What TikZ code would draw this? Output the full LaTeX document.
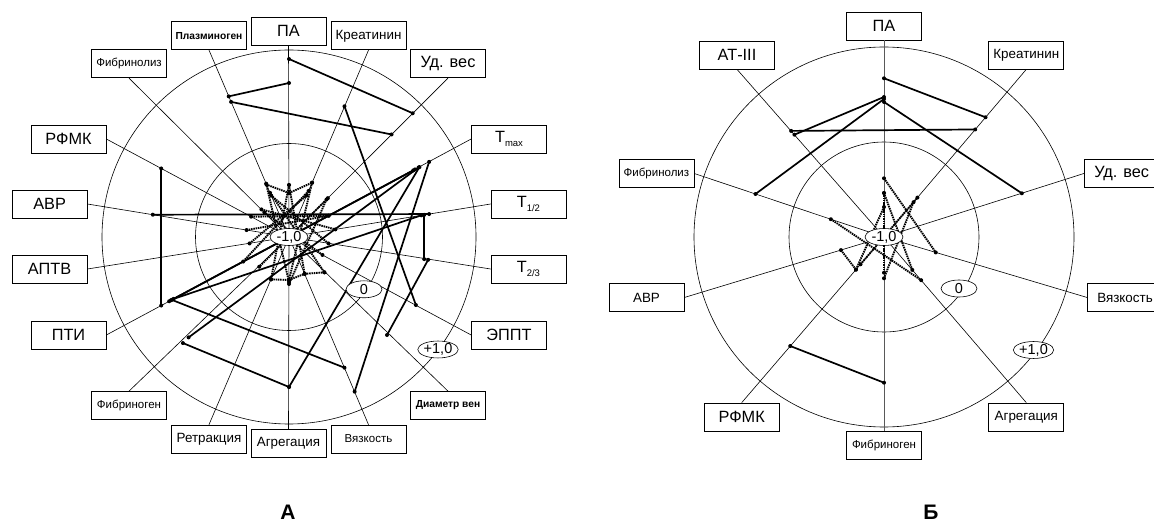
\documentclass[tikz,border=0pt]{standalone}
\usepackage{fontspec}
\setmainfont{Liberation Sans}
\usetikzlibrary{calc,shapes.geometric}
\newcommand\fsz[1]{\fontsize{#1bp}{#1bp}\selectfont}
\newcommand\subtx[1]{\raisebox{-0.5ex}{\fontsize{9.5bp}{9.5bp}\selectfont #1}}
\newcommand\seg[7]{%
  \coordinate (#1a) at ($(#3)+(#4:#5bp)$);
  \coordinate (#1b) at ($(#3)+(#6:#7bp)$);
  \draw[#2] (#1a) -- (#1b);
  \fill (#1a) circle (2bp) (#1b) circle (2bp);
}
\tikzset{
 box/.style={draw, line width=0.7bp, fill=white, minimum width=75bp, minimum height=28bp, inner sep=0pt},
 big/.style={font=\fsz{16.3}},
 mid/.style={font=\fsz{13.4}},
 sml/.style={font=\fsz{11.5}},
 smb/.style={font=\fsz{10.2}\bfseries},
 spoke/.style={line width=0.6bp},
 ring/.style={line width=0.6bp},
 sol/.style={line width=1.7bp},
 dotl/.style={line width=1.9bp, dash pattern=on 1.5bp off 0.8bp},
 oval/.style={ellipse, draw, line width=0.6bp, fill=white, inner sep=0pt, minimum width=38bp, minimum height=17bp, font=\fsz{14.5}},
 title/.style={font=\fsz{21}\bfseries, anchor=base},
}
\begin{document}
\begin{tikzpicture}[x=1bp,y=-1bp]
\useasboundingbox (0,0) rectangle (1154,522);
% ================= A =================
\coordinate (cA) at (289,237);
\draw[ring] (cA) circle (187bp);
\draw[ring] (cA) circle (93.5bp);
% labels A
\node[box,big] (aPA)   at (288.5,31)  {ПА};
\node[box,smb] (aPlaz) at (209,35.8)  {Плазминоген};
\node[box,mid] (aKre)  at (368.5,35.8){Креатинин};
\node[box,sml] (aFbl)  at (129,63.8)  {Фибринолиз};
\node[box,big] (aUd)   at (448,63.8)  {Уд. вес};
\node[box,big] (aRF)   at (68.5,139)  {РФМК};
\node[box,big] (aTmx)  at (509,139)   {T\subtx{max}};
\node[box,big] (aAVR)  at (49.6,204)  {АВР};
\node[box,big] (aT12)  at (528.4,204) {T\subtx{1/2}};
\node[box,big] (aAPT)  at (49.6,269)  {АПТВ};
\node[box,big] (aT23)  at (528.4,269) {T\subtx{2/3}};
\node[box,big] (aPTI)  at (68.5,335)  {ПТИ};
\node[box,big] (aEP)   at (509,335)   {ЭППТ};
\node[box,sml] (aFbg)  at (129,405.5) {Фибриноген};
\node[box,smb] (aDia)  at (448,405.5) {Диаметр вен};
\node[box,mid] (aRet)  at (209,439)   {Ретракция};
\node[box,mid] (aAgr)  at (288.5,443.3){Агрегация};
\node[box,sml] (aVya)  at (368.5,439) {Вязкость};
% spokes A
\draw[spoke] (cA) -- (aPA.south);
\draw[spoke] (cA) -- (aPlaz.south);
\draw[spoke] (cA) -- (aKre.south);
\draw[spoke] (cA) -- (aFbl.south);
\draw[spoke] (cA) -- (aUd.south);
\draw[spoke] (cA) -- (aRF.east);
\draw[spoke] (cA) -- (aTmx.west);
\draw[spoke] (cA) -- (aAVR.east);
\draw[spoke] (cA) -- (aT12.west);
\draw[spoke] (cA) -- (aAPT.east);
\draw[spoke] (cA) -- (aT23.west);
\draw[spoke] (cA) -- (aPTI.east);
\draw[spoke] (cA) -- (aEP.west);
\draw[spoke] (cA) -- (aFbg.north);
\draw[spoke] (cA) -- (aDia.north);
\draw[spoke] (cA) -- (aRet.north);
\draw[spoke] (cA) -- (aAgr.north);
\draw[spoke] (cA) -- (aVya.north);
% solid A
\seg{s1}{sol}{cA}{90}{178}{45}{175}
\seg{s2}{sol}{cA}{90}{154}{113.2}{153}
\seg{s3}{sol}{cA}{113.2}{147}{45}{145}
\seg{s4}{sol}{cA}{67}{142}{-28.2}{144}
\seg{s5}{sol}{cA}{28.2}{159}{-67}{168}
\seg{s6}{sol}{cA}{-9.3}{141}{-45}{138.6}
\seg{s7}{sol}{cA}{9.3}{137}{-9.3}{137}
\seg{s8}{sol}{cA}{170.7}{138}{9.3}{142}
\seg{s9}{sol}{cA}{151.8}{145}{-151.8}{145}
\seg{s10}{sol}{cA}{-151.8}{134}{28.2}{143}
\seg{s11}{sol}{cA}{-151.8}{131}{9.3}{134}
\seg{s12}{sol}{cA}{-135}{142}{28.2}{147}
\seg{s13}{sol}{cA}{-90}{150}{28.2}{148}
\seg{s14}{sol}{cA}{-135}{150}{-90}{150}
\seg{s15}{sol}{cA}{-151.8}{133}{-67}{142}
\seg{s16}{sol}{cA}{-151.8}{136}{28.2}{141}
% dotted A
\seg{d1}{dotl}{cA}{113.2}{58}{-90}{45}
\seg{d2}{dotl}{cA}{90}{52}{-113}{46}
\seg{d3}{dotl}{cA}{90}{52}{-67}{40}
\seg{d4}{dotl}{cA}{67}{59}{-90}{43}
\seg{d5}{dotl}{cA}{67}{50}{-151.8}{52}
\seg{d6}{dotl}{cA}{45}{55}{-135}{42}
\seg{d7}{dotl}{cA}{113.2}{48}{-45}{50}
\seg{d8}{dotl}{cA}{135}{39}{9.3}{47}
\seg{d9}{dotl}{cA}{151.8}{43}{28.2}{45}
\seg{d10}{dotl}{cA}{170.7}{43}{28.2}{45}
\seg{d11}{dotl}{cA}{-113}{46}{-90}{43}
\seg{d12}{dotl}{cA}{-90}{43}{-67}{40}
\seg{d13}{dotl}{cA}{-67}{40}{-45}{50}
\seg{d14}{dotl}{cA}{90}{44}{113.2}{57}
\seg{d15}{dotl}{cA}{90}{44}{67}{59}
\seg{d16}{dotl}{cA}{45}{53}{-90}{47}
\seg{d17}{dotl}{cA}{-170.7}{40}{67}{45}
\seg{d18}{dotl}{cA}{-9.3}{40}{113.2}{45}
\seg{d19}{dotl}{cA}{-28.2}{38}{135}{35}
% value ovals A
\node[oval] (aM1) at (cA) {-1,0};
\node[oval,minimum width=36bp] (aZ) at (364,289.3) {0};
\node[oval,minimum height=16bp] (aP1) at (438,349.5) {+1,0};
\node[title] (tA) at (288,519) {А};
% ================= Б =================
\coordinate (cB) at (884,237);
\draw[ring] (cB) circle (190bp);
\draw[ring] (cB) circle (95bp);
\node[box,big] (bPA)  at (884,26)      {ПА};
\node[box,big] (bAT)  at (737,55)      {АТ-III};
\node[box,mid] (bKre) at (1026.3,55)   {Креатинин};
\node[box,sml] (bFbl) at (656.4,173.5) {Фибринолиз};
\node[box,big] (bUd)  at (1121.7,173.5){Уд. вес};
\node[box,mid] (bAVR) at (646.5,297.5) {АВР};
\node[box,mid] (bVya) at (1125,297.5)  {Вязкость};
\node[box,big] (bRF)  at (741.7,417)   {РФМК};
\node[box,mid] (bAgr) at (1026.3,417)  {Агрегация};
\node[box,sml] (bFbg) at (884,445)     {Фибриноген};
\draw[line width=1bp, black!65] (bPA.south) -- (bFbg.north);
\draw[spoke] (cB) -- (bAT.south);
\draw[spoke] (cB) -- (bKre.south);
\draw[spoke] (cB) -- (bFbl.east);
\draw[spoke] (cB) -- (bUd.west);
\draw[spoke] (cB) -- (bAVR.east);
\draw[spoke] (cB) -- (bVya.west);
\draw[spoke] (cB) -- (bRF.north);
\draw[spoke] (cB) -- (bAgr.north);
% solid B
\seg{t1}{sol}{cB}{90}{158.7}{49.7}{157}
\seg{t2}{sol}{cB}{90}{140}{131.2}{136}
\seg{t3}{sol}{cB}{90}{138}{161.5}{135.5}
\seg{t4}{sol}{cB}{90}{135}{17.6}{144.6}
\seg{t5}{sol}{cB}{131.2}{141}{49.7}{141}
\seg{t6}{sol}{cB}{-130.7}{143.8}{-90}{145.7}
% dotted B
\seg{e1}{dotl}{cB}{90}{58.7}{-16.6}{54}
\seg{e2}{dotl}{cB}{161.5}{56}{-49.3}{57}
\seg{e3}{dotl}{cB}{-163.1}{45}{-130.7}{43}
\seg{e4}{dotl}{cB}{-130.7}{36}{49.7}{51.7}
\seg{e5}{dotl}{cB}{90}{44}{-49.3}{43.4}
\seg{e6}{dotl}{cB}{49.7}{45.6}{-90}{41.3}
\seg{e7}{dotl}{cB}{90}{30}{-130.7}{43}
\seg{e8}{dotl}{cB}{90}{44}{-90}{35.7}
\node[oval] (bM1) at (cB) {-1,0};
\node[oval,minimum width=36bp] (bZ) at (959,288.5) {0};
\node[oval,minimum height=16bp] (bP1) at (1033.5,350) {+1,0};
\node[title] (tB) at (931,519) {Б};
\end{tikzpicture}
\end{document}
